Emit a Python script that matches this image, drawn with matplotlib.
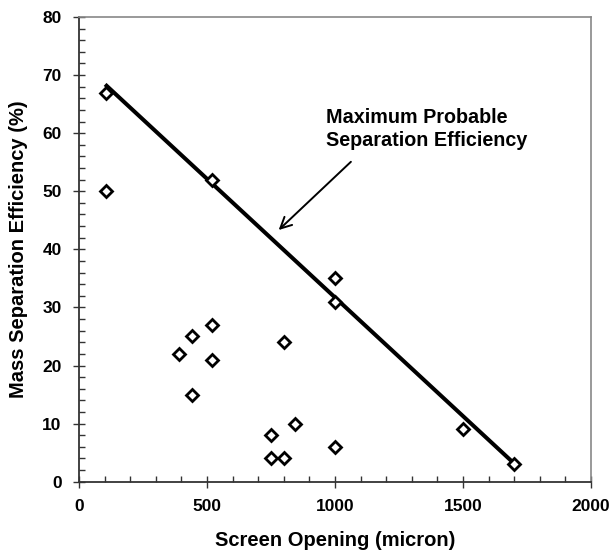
import matplotlib
matplotlib.use("Agg")
import matplotlib.pyplot as plt
from matplotlib.ticker import MultipleLocator

plt.rcParams['font.family'] = ['Liberation Sans', 'DejaVu Sans']
plt.rcParams['font.weight'] = 'bold'

# data
screen_opening = [105, 105, 518, 390, 443, 518, 518, 443, 802, 751, 751, 802, 844, 1000, 1000, 1000, 1500, 1700]
efficiency     = [67, 50, 52, 22, 25, 27, 21, 15, 24, 8, 4, 4, 10, 35, 31, 6, 9, 3]

line_x = [102, 1703]
line_y = [68.4, 3.0]

annot_text = "Maximum Probable\nSeparation Efficiency"
arrow_start = (1070, 55.4)
arrow_tip = (772, 43.0)

fig = plt.figure(figsize=(6.12, 5.5), dpi=100)
ax = fig.add_axes([79/612, 1-481.7/550, (591-79)/612, (481.7-17)/550])

ax.plot(line_x, line_y, color='black', lw=2.9, solid_capstyle='butt', zorder=2)
ax.plot(screen_opening, efficiency, linestyle='none', marker='D', markersize=5.8,
        markerfacecolor='white', markeredgecolor='black', markeredgewidth=2.0, zorder=3)

ax.annotate('', xy=arrow_tip, xytext=arrow_start,
            arrowprops=dict(arrowstyle='->', color='black', lw=1.4, mutation_scale=20))
ax.text(965, 64.4, annot_text, fontsize=14.2, fontweight='bold', ha='left', va='top',
        linespacing=1.3)

ax.set_xlim(0, 2000)
ax.set_ylim(0, 80)
ax.xaxis.set_major_locator(MultipleLocator(500))
ax.xaxis.set_minor_locator(MultipleLocator(100))
ax.yaxis.set_major_locator(MultipleLocator(10))
ax.yaxis.set_minor_locator(MultipleLocator(2))

ax.tick_params(which='major', direction='inout', length=9, width=1.0, pad=8, labelsize=12.5, color='#333333')
ax.tick_params(which='minor', direction='in', length=4, width=1.0, color='#333333')
ax.tick_params(top=False, right=False, which='both')
for lab in ax.get_xticklabels() + ax.get_yticklabels():
    lab.set_fontweight('bold')

for s in ['left', 'bottom']:
    ax.spines[s].set_color('#333333')
    ax.spines[s].set_linewidth(1.3)
for s in ['top', 'right']:
    ax.spines[s].set_color('#888888')
    ax.spines[s].set_linewidth(1.2)

ax.set_xlabel('Screen Opening (micron)', fontsize=14.5, fontweight='bold', labelpad=12)
ax.set_ylabel('Mass Separation Efficiency (%)', fontsize=14.5, fontweight='bold', labelpad=10)

fig.savefig('out.png', dpi=100)
